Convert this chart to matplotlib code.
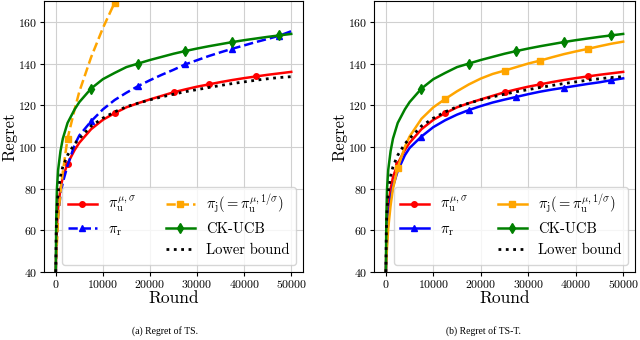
import numpy as np
import matplotlib
matplotlib.use("Agg")
import matplotlib.pyplot as plt
from matplotlib.lines import Line2D

plt.rcParams["font.family"] = "serif"
plt.rcParams["font.serif"] = ["cmr10"]
plt.rcParams["mathtext.fontset"] = "cm"
plt.rcParams["axes.formatter.use_mathtext"] = True
plt.rcParams["axes.unicode_minus"] = False

rounds = [0, 100, 250, 500, 1000, 1500, 2500, 4000, 5000, 7500, 10000, 12500,
          15000, 17500, 20000, 22500, 25000, 27500, 30000, 32500, 35000,
          37500, 40000, 42500, 45000, 47500, 50000]

# shared by both panels
reg_u = [40, 52, 62, 71, 80, 85.5, 92, 98.5, 102, 108.5, 113, 116.2,
         119, 121, 122.8, 124.5, 126.2, 127.6, 128.9, 130, 131.1,
         132.1, 133, 133.8, 134.6, 135.3, 136]
reg_ckucb = [40, 66, 80, 89, 98, 104, 111.5, 118, 121.5, 128, 132.5, 135.5,
             138.3, 140, 141.7, 143.2, 144.7, 146, 147.2, 148.3, 149.3,
             150.3, 151.2, 152, 152.8, 153.5, 154.2]
reg_lower = [40, 60, 70, 78, 86, 90.5, 96, 101.5, 104, 110, 113.8, 116.8,
             119.3, 121, 122.6, 124, 125.3, 126.5, 127.5, 128.5, 129.5,
             130.4, 131.2, 132, 132.7, 133.3, 133.7]

# (a) TS
ts_r = [40, 50, 58, 67, 77, 83, 91, 101, 105.5, 112.3, 118, 122.5,
        126, 129.2, 132, 134.6, 137, 139.6, 141.6, 143.6, 145.4,
        147.1, 148.7, 150.3, 151.8, 153.4, 155.5]
ts_j_rounds = rounds[:13]
ts_j = [40, 47, 54, 66, 78, 88, 104, 118, 126.5, 143, 157, 169.2, 180]

# (b) TS-T
tst_r = [40, 48, 56, 65, 75, 81, 88.5, 96, 99.5, 105, 109.5, 112.8,
         115.5, 117.7, 119.6, 121.3, 122.7, 124, 125.3, 126.5, 127.5,
         128.4, 129.3, 130.2, 131, 132, 132.9]
tst_j = [40, 45, 52, 61, 72, 80, 90, 100, 105, 113.5, 119, 123,
         126.7, 130, 132.8, 135, 136.6, 138.3, 140, 141.4, 143,
         144.5, 145.8, 147, 148.3, 149.5, 150.5]

marks_a = [6, 11, 16, 19, 23]   # red / orange markers
marks_b = [9, 13, 17, 21, 25]   # blue / green markers

labels = [r"$\pi_{\mathrm{u}}^{\mu,\sigma}$", r"$\pi_{\mathrm{r}}$",
          r"$\pi_{\mathrm{j}}(=\pi_{\mathrm{u}}^{\mu,1/\sigma})$",
          "CK-UCB", "Lower bound"]
captions = ["(a) Regret of TS.", "(b) Regret of TS-T."]

fig = plt.figure(figsize=(6.4, 3.4), dpi=100)
ax1 = fig.add_axes([44/640, 1-272/340, 259/640, 271/340])
ax2 = fig.add_axes([374/640, 1-272/340, 261/640, 271/340])

lw = 1.8
ms = 4
for ax, r, j, jx, ls in [(ax1, ts_r, ts_j, ts_j_rounds, "--"),
                         (ax2, tst_r, tst_j, rounds, "-")]:
    h1, = ax.plot(rounds, reg_u, "-", color="red", lw=lw, marker="o", ms=ms,
                  markevery=marks_a)
    h2, = ax.plot(rounds, r, ls, color="blue", lw=lw, marker="^", ms=ms,
                  markevery=marks_b)
    jm = [m for m in marks_a if m < len(j)]
    h3, = ax.plot(jx, j, ls, color="orange", lw=lw, marker="s", ms=ms,
                  markevery=jm)
    h4, = ax.plot(rounds, reg_ckucb, "-", color="green", lw=lw, marker="d",
                  ms=ms+1, markevery=marks_b)
    h5, = ax.plot(rounds, reg_lower, ":", color="black", lw=lw+0.2)
    blank = Line2D([], [], color="none")
    ax.legend([h1, h2, blank, h3, h4, h5],
              [labels[0], labels[1], " ", labels[2], labels[3], labels[4]],
              ncol=2, loc="lower right", fontsize=10.5)
    ax.set_xlim(-2500, 52500)
    ax.set_ylim(40, 170)
    ax.set_xticks([0, 10000, 20000, 30000, 40000, 50000])
    ax.set_yticks([40, 60, 80, 100, 120, 140, 160])
    ax.tick_params(labelsize=8.5, length=3, pad=1.5)
    ax.grid(True, color="#d0d0d0", lw=0.8)
    ax.set_xlabel("Round", fontsize=12.5, labelpad=0)
    ax.set_ylabel("Regret", fontsize=12, labelpad=1)

fig.text(165/640, 1-331/340, captions[0], ha="center", va="center",
         family="Liberation Serif", fontsize=7)
fig.text(483/640, 1-331/340, captions[1], ha="center", va="center",
         family="Liberation Serif", fontsize=7)

fig.savefig("out.png", dpi=100)
